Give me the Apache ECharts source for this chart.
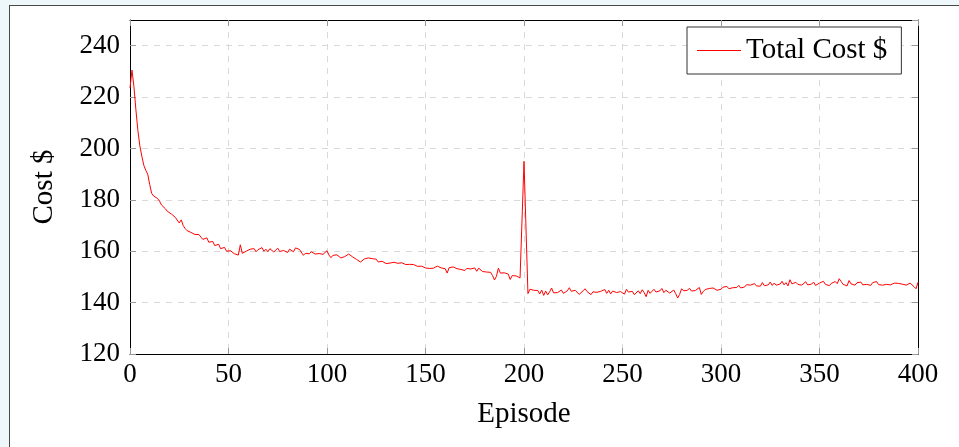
<!DOCTYPE html>
<html>
<head>
<meta charset="utf-8">
<script src="https://cdn.jsdelivr.net/npm/echarts@6/dist/echarts.min.js"></script>
<style>
html,body{margin:0;padding:0;background:#eef7fa;width:959px;height:447px;overflow:hidden;}
#frame{position:absolute;left:9px;top:5px;width:960px;height:460px;background:#fff;border:1px solid #4a4a4a;}
#chart{position:absolute;left:0;top:0;width:959px;height:447px;}
</style>
</head>
<body>
<div id="frame"></div>
<div id="chart"></div>
<script>
// Total cost per episode, episodes 0..400
const costs0 = [223.5,230.5,224,215,207,201,197,193.5,191.5,190,186,182.5,181.5,181.5,180.5,179.5,178,177.5,176.5,175.5,
175,174.5,173.8,173.2,172.5,171,172.2,170,168.8,168,168.5,167.3,166.8,166.5,166.2,166.5,165.5,164.6,164.3,165.2,
163.5,163,163.8,162.2,161.5,162.7,161,160.5,161.5,160,159.8,160.2,159.5,159,159.3,158.5,162.5,159.2,159.8,160,
159.6,160.8,160.2,161,159.8,160.6,160.3,161.4,160,160.8,159.8,161,161.7,159.7,160.4,161.2,159.9,160.5,160.3,161,
159.5,160.8,161.5,159.8,161.3,161.6,160.7,161.2,158.4,159.2,159.5,159,159.8,159.3,158.9,159.4,159.1,159.6,158.8,159.2];
const costs1 = [160.2,158.5,157.5,158.4,157.8,158.6,158.2,157.4,157.6,157.9,158.3,158.9,158.2,157.8,157.5,156.8,157.2,155.8,156.5,157,
156.5,157.4,156.8,157.1,156.7,156.9,155.8,156.3,156.1,155.5,155.2,155.6,155.4,155,155.7,155.9,155.3,155.8,155.5,155.1,
154.8,155.2,154.9,154.5,154.8,154.4,154.1,154.6,154.2,153.8,153.5,153.9,153.3,152.9,153.4,153.1,154.2,153.8,153.5,154.1,
153.2,151.5,153.6,153.3,153.9,153.6,153.2,153.8,152.9,153.4,152.5,153.3,152.6,153.1,152.4,153.5,152.2,153.4,152.7,152.1,
152.8,151.9,151.4,151.8,150.6,148.8,150.2,153.4,151.5,152.2,151.6,151.3,151.1,149,150.5,151,150.4,150.1,149.6,149];
const costs2 = [195,195,143.5,145.2,144.6,144.8,144.1,144.7,143.4,144.9,142.8,144.5,143,144.2,145.7,143.8,144.3,143.9,144.5,144.9,
143.6,144.2,144.6,145.8,144.4,143.7,144.8,144.1,143.2,143.9,144.6,145.4,144.3,143.8,143.1,144.2,144.8,144,143.5,144.4,
144.1,145.1,143.6,144.8,143.4,144.5,144.2,143.9,143.2,144.3,144.7,143.3,145.2,144.1,143.6,144.4,143.1,143.8,144.6,143.5,
145,143.9,142.3,144.8,143.6,144.4,145.2,144.1,143.4,144.6,145.5,143.9,144.8,144.2,143.7,144.3,144.9,143.5,141.8,143.2,
145.4,144.6,144,144.8,145.6,144.5,145.1,144.7,145.4,145.9,143.2,144.3,145.1,144.6,145.5,144.9,145.7,146.2,144.8,145.5];
const costs3 = [145.2,146,145.6,146.3,145.4,146.1,145.8,146.5,145.9,146.7,145.7,146.4,146.1,147,146.3,146.8,146.2,147.4,146.5,147.1,
146.4,147.8,146.6,147.3,146.9,148,146.7,147.6,146.8,147.5,147.2,148.3,146.9,147.8,146.5,148.9,147.3,146.6,147.9,147.1,
147.7,146.8,147.4,148.1,146.9,147.5,147.2,148,146.7,147.3,147.6,146.9,148.3,147.1,147.8,146.6,147.5,147.2,148.2,147.4,
149.3,148.2,147.1,147.8,146.5,148.6,147.3,147.9,146.8,147.7,147.2,148,146.9,147.4,147.1,147.6,146.7,147.8,147.3,148.2,
147,147.5,146.8,147.4,147.1,147.7,146.9,147.3,147.6,148.3,147.5,147.8,147.2,147.5,146.8,147.1,147.6,147.3,146.2,145.4,147.9];

const xTicks = [0,50,100,150,200,250,300,350,400];
const yTicks = [120,140,160,180,200,220,240];
const seriesName = 'Total Cost $';
const xName = 'Episode';
const yName = 'Cost $';

const costs = costs0.concat(costs1, costs2, costs3);
const points = costs.map((c, i) => [i, c]);

const FONT = "'Liberation Serif', 'DejaVu Serif', serif";
const RED = '#ff0000';
const chart = echarts.init(document.getElementById('chart'), null, {renderer: 'canvas'});
const gridLine = {show: true, lineStyle: {color: '#d9d9d9', type: [6, 6], width: 1}};
const tickStyle = {show: true, inside: true, length: 6, lineStyle: {color: '#999', width: 1}};
const blackLine = {show: true, onZero: false, lineStyle: {color: '#000', width: 1}};
chart.setOption({
  backgroundColor: 'transparent',
  animation: false,
  grid: {left: 130, right: 41, top: 20, bottom: 93, show: false},
  legend: {
    data: [{name: seriesName, icon: 'rect', itemStyle: {color: RED, borderWidth: 0}}],
    left: 687, top: 27, orient: 'horizontal',
    backgroundColor: '#fff', borderColor: '#333', borderWidth: 1,
    padding: [9, 14, 9, 10], itemWidth: 44, itemHeight: 1.2, itemGap: 6,
    itemStyle: {color: RED, borderWidth: 0},
    textStyle: {fontFamily: FONT, fontSize: 29, color: '#000'}
  },
  xAxis: [{
    type: 'value', min: xTicks[0], max: xTicks[xTicks.length - 1], interval: 50,
    name: xName, nameLocation: 'middle', nameGap: 46,
    nameTextStyle: {fontFamily: FONT, fontSize: 29, color: '#000'},
    axisLine: blackLine,
    axisTick: tickStyle, splitLine: gridLine,
    axisLabel: {fontFamily: FONT, fontSize: 27, color: '#000', margin: 7}
  }, {
    type: 'value', position: 'top', min: 0, max: 400, interval: 50,
    axisLine: blackLine, axisTick: tickStyle, splitLine: {show: false}, axisLabel: {show: false}
  }],
  yAxis: [{
    type: 'value', min: 120, max: 250, interval: 20,
    name: yName, nameLocation: 'middle', nameGap: 71, nameRotate: 90,
    nameTextStyle: {fontFamily: FONT, fontSize: 29, color: '#000'},
    axisLine: blackLine,
    axisTick: tickStyle, splitLine: gridLine,
    axisLabel: {fontFamily: FONT, fontSize: 27, color: '#000', margin: 10, showMaxLabel: false}
  }, {
    type: 'value', position: 'right', min: 120, max: 250, interval: 20,
    axisLine: blackLine, axisTick: tickStyle, splitLine: {show: false}, axisLabel: {show: false}
  }],
  series: [{
    name: seriesName, type: 'line', data: points, xAxisIndex: 0, yAxisIndex: 0,
    showSymbol: false, symbol: 'none',
    lineStyle: {color: RED, width: 1}, itemStyle: {color: RED}
  }]
});
</script>
</body>
</html>
